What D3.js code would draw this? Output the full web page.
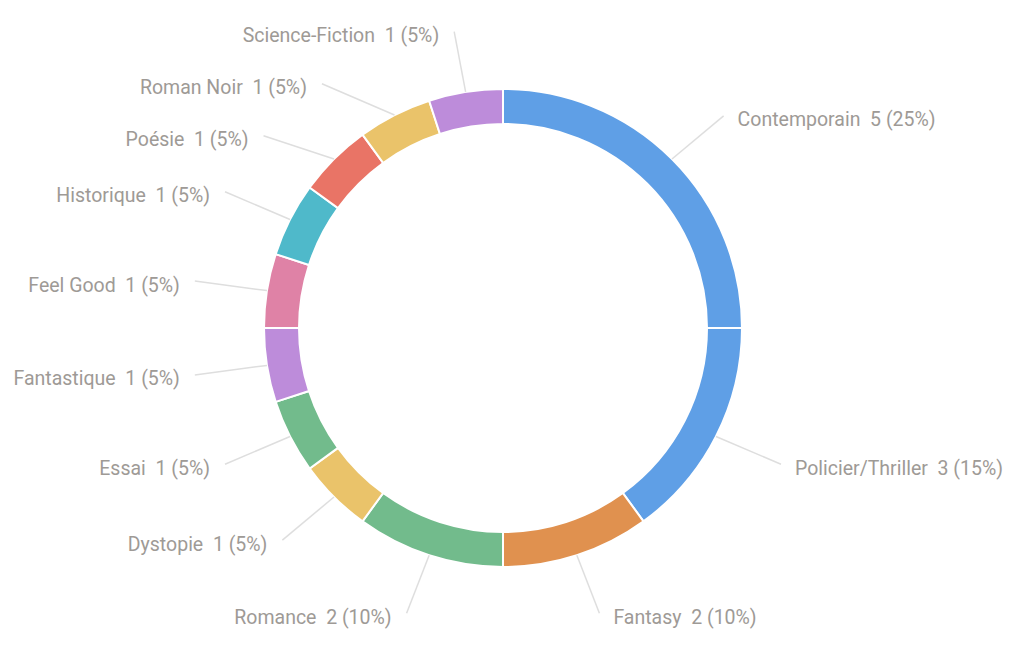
<!DOCTYPE html>
<html>
<head>
<meta charset="utf-8">
<script src="https://cdn.jsdelivr.net/npm/d3@7"></script>
<style>
html,body{margin:0;padding:0;background:#fff;}
svg text{font-family:Roboto,"Noto Sans",sans-serif;white-space:pre;}
</style>
</head>
<body>
<svg id="chart" width="1014" height="658"></svg>
<script>
const categories = ["Contemporain","Policier/Thriller","Fantasy","Romance","Dystopie","Essai","Fantastique","Feel Good","Historique","Poésie","Roman Noir","Science-Fiction"];
const counts = [5,3,2,2,1,1,1,1,1,1,1,1];
const colors = ["#5f9fe6","#5f9fe6","#e0914f","#72bb8c","#eac36a","#72bb8c","#bd8cda","#df82a6","#4fb9ca","#e97466","#eac36a","#bd8cda"];

const W = 1014, H = 658, cx = 503, cy = 328;
const rOuter = 239, rInner = 204, rxLabel = 312, ryLabel = 300, minGap = 52;

const svg = d3.select("#chart");
const g = svg.append("g").attr("transform", `translate(${cx},${cy})`);

const data = categories.map((c,i)=>({name:c, value:counts[i], color:colors[i]}));
const total = d3.sum(counts);
const pie = d3.pie().value(d=>d.value).sort(null).startAngle(0).endAngle(2*Math.PI);
const arcs = pie(data);
const arc = d3.arc().innerRadius(rInner).outerRadius(rOuter);

g.selectAll("path.slice").data(arcs).join("path")
  .attr("class","slice")
  .attr("d", arc)
  .attr("fill", d=>d.data.color)
  .attr("stroke","#fff")
  .attr("stroke-width",2);

// label layout
const labels = arcs.map(a=>{
  const m = (a.startAngle + a.endAngle)/2;
  return {a, m, side: Math.sin(m) >= 0 ? 1 : -1,
    sx: rOuter*Math.sin(m), sy: -rOuter*Math.cos(m),
    y: -ryLabel*Math.cos(m)};
});
[1,-1].forEach(side=>{
  const grp = labels.filter(l=>l.side===side).sort((p,q)=>p.y-q.y);
  for(let i=1;i<grp.length;i++){
    if(grp[i].y - grp[i-1].y < minGap) grp[i].y = grp[i-1].y + minGap;
  }
});
labels.forEach(l=>{
  const t = Math.max(-1, Math.min(1, l.y/ryLabel));
  l.x = l.side * rxLabel * Math.sqrt(1 - t*t);
});

g.selectAll("line.lead").data(labels).join("line")
  .attr("class","lead")
  .attr("x1", d=>d.sx).attr("y1", d=>d.sy)
  .attr("x2", d=>d.x).attr("y2", d=>d.y)
  .attr("stroke","#dedede").attr("stroke-width",1.5);

g.selectAll("text.lbl").data(labels).join("text")
  .attr("class","lbl")
  .attr("x", d=> d.side>0 ? d.x+14 : d.x-15)
  .attr("y", d=> d.y+4)
  .attr("dominant-baseline","central")
  .attr("text-anchor", d=> d.side>0 ? "start" : "end")
  .attr("font-size", 19.5)
  .attr("fill","#9e9a96")
  .text(d=> `${d.a.data.name}  ${d.a.data.value} (${Math.round(d.a.data.value/total*100)}%)`);
</script>
</body>
</html>
